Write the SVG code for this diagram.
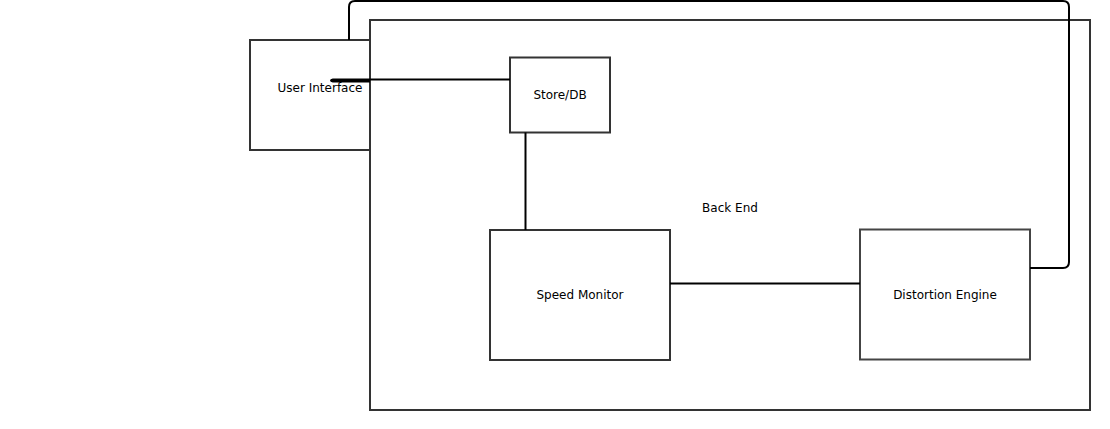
<svg xmlns="http://www.w3.org/2000/svg" width="1110" height="429" viewBox="0 0 1110 429">
<style>
.box{fill:#fff;stroke:#333;stroke-width:2}
.frame{fill:none;stroke:#333;stroke-width:2}
.lbl{font-family:"DejaVu Sans",sans-serif;font-size:12px;fill:#000;text-anchor:middle;dominant-baseline:middle}
.conn{fill:none;stroke:#000;stroke-width:2}
</style>
<rect width="1110" height="429" fill="#fff"/>
<g id="ui">
<rect class="box" x="250" y="40" width="120" height="110"/>
<text class="lbl" x="320" y="88">User Interface</text>
</g>
<g id="backend">
<rect class="frame" x="370" y="20" width="720" height="390"/>
<text class="lbl" x="730" y="208">Back End</text>
</g>
<g id="store">
<rect class="box" x="510" y="57.5" width="100" height="75"/>
<text class="lbl" x="560" y="95">Store/DB</text>
</g>
<g id="speed">
<rect class="box" x="490" y="230" width="180" height="130"/>
<text class="lbl" x="580" y="295">Speed Monitor</text>
</g>
<g id="distortion">
<rect class="box" x="860" y="229.5" width="170" height="130" style="stroke:#444"/>
<text class="lbl" x="945" y="295">Distortion Engine</text>
</g>
<g id="connectors">
<path class="conn" d="M510 79.5 L333 79.5 Q329 80.5 333 81.5 L370 81.5" stroke-width="1.8"/>
<path class="conn" d="M525.5 132.5 L525.5 230"/>
<path class="conn" d="M670 283.5 L860 283.5"/>
<path class="conn" d="M1030 268 L1063 268 Q1069 268 1069 262 L1069 7 Q1069 1 1063 1 L355 1 Q349 1 349 7 L349 40"/>
</g>
</svg>
